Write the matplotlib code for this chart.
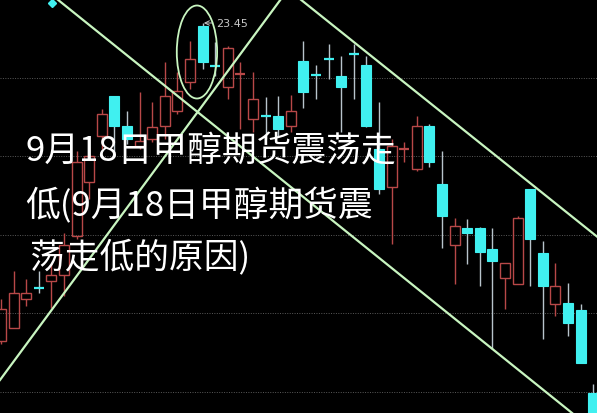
import numpy as np
import matplotlib.pyplot as plt
from matplotlib.patches import Rectangle, Ellipse

plt.rcParams['font.family'] = ['Noto Sans CJK SC', 'DejaVu Sans']

# daily candles (price), left to right
opens = [20.27, 20.40, 20.69, 20.81, 20.87, 20.93, 21.32, 21.86, 22.32, 22.72,
         22.42, 22.22, 22.29, 22.42, 22.57, 22.86, 23.42, 23.04, 22.81, 22.93,
         22.49, 22.53, 22.52, 22.42, 23.07, 22.94, 23.10, 22.92, 23.15, 23.03,
         22.19, 21.81, 22.18, 21.99, 22.42, 21.84, 21.23, 21.40, 21.40, 21.19,
         20.90, 20.84, 21.79, 21.15, 20.64, 20.65, 20.58, 19.75]
highs = [20.69, 20.97, 20.89, 20.97, 21.04, 21.35, 22.17, 22.21, 22.59, 22.72,
         22.57, 22.76, 22.66, 23.06, 22.96, 23.27, 23.45, 23.26, 23.22, 23.06,
         22.96, 22.71, 22.72, 22.73, 23.27, 23.03, 23.24, 23.12, 23.24, 23.12,
         22.66, 22.29, 22.26, 22.52, 22.44, 22.17, 21.50, 21.49, 21.41, 21.40,
         21.05, 21.52, 21.79, 21.27, 21.05, 20.85, 20.64, 19.84]
lows = [20.24, 20.40, 20.62, 20.75, 20.60, 20.72, 21.29, 21.69, 22.19, 22.12,
        22.24, 22.19, 22.26, 22.29, 22.54, 22.79, 22.99, 22.92, 22.69, 22.39,
        22.36, 22.29, 22.31, 22.36, 22.60, 22.69, 22.89, 22.36, 22.69, 22.41,
        21.74, 21.24, 22.06, 21.97, 22.01, 21.20, 20.84, 21.04, 20.82, 20.19,
        20.59, 20.84, 20.82, 20.29, 20.52, 20.32, 20.05, 19.49]
closes = [20.59, 20.75, 20.75, 20.79, 20.93, 21.23, 22.06, 22.12, 22.54, 22.42,
          22.29, 22.27, 22.41, 22.72, 22.77, 23.09, 23.06, 23.01, 23.20, 22.95,
          22.69, 22.51, 22.39, 22.57, 22.76, 22.92, 23.08, 22.81, 23.13, 22.42,
          21.79, 22.22, 22.20, 22.42, 22.06, 21.52, 21.42, 21.35, 21.16, 21.07,
          21.05, 21.50, 21.29, 20.82, 20.82, 20.45, 20.05, 19.49]

grid_levels = [22.90, 22.12, 21.33, 20.55, 19.76]

# hand-drawn trend lines: (index, price) end points
trend_lines = [
    [(4.44, 23.69), (45.32, 19.55)],
    [(-0.08, 19.88), (22.22, 23.69)],
    [(23.73, 23.69), (47.54, 21.29)],
]
circle_center = (15.55, 23.16)
circle_size = (3.2, 0.93)
marker_point = (4.05, 23.65)
peak_index = 16
peak_label = '23.45'

title_lines = ['9月18日甲醇期货震荡走', '低(9月18日甲醇期货震', '荡走低的原因)']

red = '#b84848'
cyan = '#40f0f0'
wick_light = '#b8c4cc'
green = '#c8f5c0'

fig = plt.figure(figsize=(6, 4.14), dpi=100, facecolor='white')
ax = fig.add_axes([0, 0, 597 / 600, 1])
ax.set_facecolor('black')

for g in grid_levels:
    ax.axhline(g, color='#5a5a5a', lw=0.7, ls=(0, (1, 1.5)), zorder=1)

w = 0.8
for i, (o, h, l, c) in enumerate(zip(opens, highs, lows, closes)):
    up = c >= o
    if abs(c - o) < 0.03:
        col = red if up else cyan
        ax.vlines(i, l, h, color=red if up else wick_light, lw=1, zorder=2)
        ax.hlines((o + c) / 2, i - w / 2, i + w / 2, color=col, lw=1.6, zorder=3)
    elif up:
        ax.vlines(i, c, h, color=red, lw=1, zorder=2)
        ax.vlines(i, l, o, color=red, lw=1, zorder=2)
        ax.add_patch(Rectangle((i - w / 2, o), w, c - o, fill=False,
                               ec=red, lw=1, zorder=3))
    else:
        ax.vlines(i, l, h, color=wick_light, lw=1, zorder=2)
        ax.add_patch(Rectangle((i - w / 2, c), w, o - c, fc=cyan,
                               ec=cyan, lw=0.8, zorder=3))

for (x0, y0), (x1, y1) in trend_lines:
    ax.plot([x0, x1], [y0, y1], color=green, lw=1.6, zorder=4)

ax.add_patch(Ellipse(circle_center, circle_size[0], circle_size[1], fill=False,
                     ec=green, lw=1.3, zorder=4))

ax.plot(*marker_point, marker='D', ms=4, color=cyan, zorder=5)

ax.annotate(peak_label, xy=(peak_index + 0.1, highs[peak_index]),
            xytext=(peak_index + 1.1, highs[peak_index]),
            color='#c8c8c8', fontsize=8, va='center', family='DejaVu Sans',
            arrowprops=dict(arrowstyle='->', color='#c8c8c8', lw=0.7,
                            shrinkA=1, shrinkB=0))

ypos = [1 - 152 / 414, 1 - 206 / 414, 1 - 257 / 414]
xpos = [25 / 597, 25 / 597, 30 / 597]
for t, x, y in zip(title_lines, xpos, ypos):
    ax.text(x, y, t, transform=ax.transAxes, color='white', fontsize=25,
            va='center', ha='left', zorder=6)

ax.set_xlim(-0.08, 47.3)
ax.set_ylim(19.55, 23.69)
ax.set_xticks([])
ax.set_yticks([])
for s in ax.spines.values():
    s.set_visible(False)

fig.savefig('out.png', dpi=100, facecolor=fig.get_facecolor())
